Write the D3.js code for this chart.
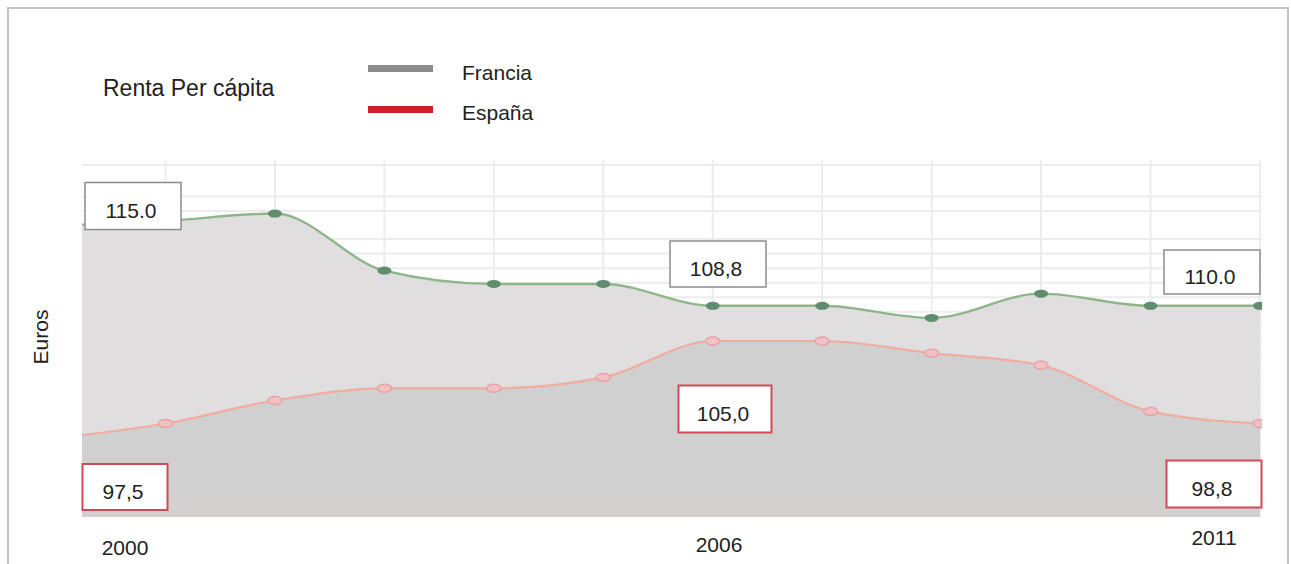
<!DOCTYPE html>
<meta charset="utf-8">
<body style="margin:0;background:#fff">
<script src="https://cdn.jsdelivr.net/npm/d3@7"></script>
<script>

// data
var years   = [2000, 2001, 2002, 2003, 2004, 2005, 2006, 2007, 2008, 2009, 2010, 2011];
var francia = [115.0, 115.4, 116.0, 111.3, 110.2, 110.2, 108.4, 108.4, 107.4, 109.4, 108.4, 108.4];
var espana  = [97.5, 98.7, 100.6, 101.6, 101.6, 102.5, 105.5, 105.5, 104.5, 103.5, 99.7, 98.7];
var tickYears = [2000, 2006, 2011];
var notesFr = [[2000, '115.0'], [2006, '108,8'], [2011, '110.0']];
var notesEs = [[2000, '97,5'], [2006, '105,0'], [2011, '98,8']];
var gridVals = [120, 117.4, 116.2, 113.9, 112.7, 111.5, 110.3, 109.1, 107.9, 106.7, 105.5,
                104.3, 103.1, 101.9, 100.7, 99.5, 98.3, 97.1, 95.9, 94.7, 93.5];

var W = 1291, H = 564;
var P = {l: 82, r: 1262, t: 165, b: 517};
var font = 'Liberation Sans, Arial, sans-serif';

var svg = d3.select('body').append('svg')
    .attr('width', W)
    .attr('height', H)
    .style('display', 'block');

svg.append('rect')
    .attr('x', 8).attr('y', 8)
    .attr('width', 1280).attr('height', 600)
    .attr('fill', 'none')
    .attr('stroke', '#c2c2c2')
    .attr('stroke-width', 2);

var x = d3.scaleLinear().domain([2000, 2011]).range([56, 1260]);
var y = d3.scaleLinear().domain([91, 120]).range([P.b, P.t]);
// column used for the year labels and value boxes
var lx = d3.scaleLinear().domain([2000, 2011]).range([125, 1214]);

svg.append('clipPath').attr('id', 'plot')
  .append('rect')
    .attr('x', P.l).attr('y', P.t - 10)
    .attr('width', P.r - P.l).attr('height', P.b - P.t + 10);

var g = svg.append('g').attr('clip-path', 'url(#plot)');

// grid
g.selectAll('.hg').data(gridVals).enter().append('line')
    .attr('x1', P.l).attr('x2', P.r)
    .attr('y1', d => y(d)).attr('y2', d => y(d))
    .attr('stroke', '#ececec')
    .attr('stroke-width', 2);
g.selectAll('.vg').data(years.slice(1)).enter().append('line')
    .attr('x1', d => x(d)).attr('x2', d => x(d))
    .attr('y1', P.t - 5).attr('y2', P.b)
    .attr('stroke', '#ececec')
    .attr('stroke-width', 2);

var fr = years.map((d, i) => ({yr: d, v: francia[i]}));
var es = years.map((d, i) => ({yr: d, v: espana[i]}));

var area = d3.area()
    .x(d => x(d.yr))
    .y0(y(91))
    .y1(d => y(d.v))
    .curve(d3.curveMonotoneX);
var line = d3.line()
    .x(d => x(d.yr))
    .y(d => y(d.v))
    .curve(d3.curveMonotoneX);

g.append('path').attr('d', area(fr)).attr('fill', '#dedbdd').attr('fill-opacity', 0.93);
g.append('path').attr('d', area(es)).attr('fill', '#cfcfcf').attr('fill-opacity', 0.93);

// faint band at the foot of the plot
g.append('rect')
    .attr('x', P.l).attr('y', y(92.7))
    .attr('width', 1090).attr('height', y(91) - y(92.7))
    .attr('fill', '#e0cfcf').attr('fill-opacity', 0.25);

g.append('path').attr('d', line(fr))
    .attr('fill', 'none').attr('stroke', '#8fb68b').attr('stroke-width', 2.4);
g.append('path').attr('d', line(es))
    .attr('fill', 'none').attr('stroke', '#f0ad9f').attr('stroke-width', 2.2);

g.selectAll('.dfr').data(fr.slice(1)).enter().append('ellipse')
    .attr('cx', d => x(d.yr)).attr('cy', d => y(d.v))
    .attr('rx', 7).attr('ry', 4)
    .attr('fill', '#5f8e6e');
g.selectAll('.des').data(es.slice(1)).enter().append('ellipse')
    .attr('cx', d => x(d.yr)).attr('cy', d => y(d.v))
    .attr('rx', 7).attr('ry', 4)
    .attr('fill', '#f1c1c3')
    .attr('stroke', '#e8a3a8')
    .attr('stroke-width', 1.5);

// value boxes: [dx, center y, width, height]
var boxFr = [[8, 206, 96, 47], [-1, 264, 96, 46], [-2, 272, 96, 44]];
var boxEs = [[0, 487, 85, 46], [6, 409, 93, 47], [0, 484, 95, 47]];

var box = (notes, layout, stroke, sw) => {
  notes.forEach((n, i) => {
    var b = layout[i], cx = lx(n[0]) + b[0];
    svg.append('rect')
      .attr('x', cx - b[2] / 2).attr('y', b[1] - b[3] / 2)
      .attr('width', b[2]).attr('height', b[3])
      .attr('fill', '#fff')
      .attr('stroke', stroke)
      .attr('stroke-width', sw);
    svg.append('text')
      .text(n[1])
      .attr('x', cx - 2).attr('y', b[1] + 12)
      .attr('text-anchor', 'middle')
      .attr('font-family', font)
      .attr('font-size', 21)
      .attr('fill', '#222');
  });
};
box(notesFr, boxFr, '#8c8c8c', 1.5);
box(notesEs, boxEs, '#cf4a54', 2);

// year labels
var tickDy = [555, 552, 545];
svg.selectAll('.yr').data(tickYears).enter().append('text')
    .text(d => d)
    .attr('x', d => lx(d))
    .attr('y', (d, i) => tickDy[i])
    .attr('text-anchor', 'middle')
    .attr('font-family', font)
    .attr('font-size', 21)
    .attr('fill', '#222');

svg.append('text')
    .text('Euros')
    .attr('transform', 'translate(48,337) rotate(-90)')
    .attr('text-anchor', 'middle')
    .attr('font-family', font)
    .attr('font-size', 21)
    .attr('fill', '#222');

svg.append('text')
    .text('Renta Per cápita')
    .attr('x', 103).attr('y', 96)
    .attr('font-family', font)
    .attr('font-size', 23)
    .attr('fill', '#222');

// legend
var legend = [['Francia', '#8c8c8c'], ['España', '#d0212b']];
legend.forEach((d, i) => {
  svg.append('rect')
    .attr('x', 368).attr('y', 65 + i * 41)
    .attr('width', 65).attr('height', 7)
    .attr('fill', d[1]);
  svg.append('text')
    .text(d[0])
    .attr('x', 462).attr('y', 80 + i * 40)
    .attr('font-family', font)
    .attr('font-size', 21)
    .attr('fill', '#222');
});

</script>
</body>
